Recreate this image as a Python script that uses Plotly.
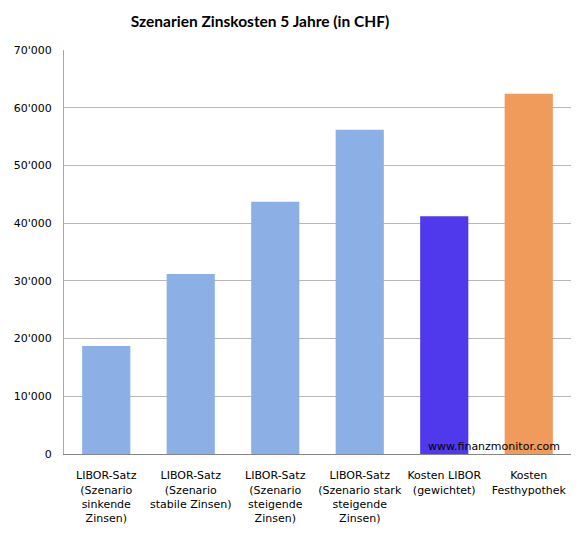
import plotly.graph_objects as go

categories = [
    "LIBOR-Satz<br>(Szenario<br>sinkende<br>Zinsen)",
    "LIBOR-Satz<br>(Szenario<br>stabile Zinsen)",
    "LIBOR-Satz<br>(Szenario<br>steigende<br>Zinsen)",
    "LIBOR-Satz<br>(Szenario stark<br>steigende<br>Zinsen)",
    "Kosten LIBOR<br>(gewichtet)",
    "Kosten<br>Festhypothek",
]
values = [18700, 31200, 43700, 56200, 41200, 62400]
bar_colors = ["#8cb0e5", "#8cb0e5", "#8cb0e5", "#8cb0e5", "#5038ec", "#f09a5c"]
y_ticks = [0, 10000, 20000, 30000, 40000, 50000, 60000, 70000]

# the page body has an 8px default margin, so the figure is sized to fit the window
W, H = 578, 539
ML, MR, MT, MB = 56, 15, 42, 93

fig = go.Figure(
    go.Bar(
        x=categories,
        y=values,
        marker=dict(color=bar_colors, line=dict(width=0)),
        width=0.57,
        hoverinfo="x+y",
    )
)

fig.update_layout(
    width=W,
    height=H,
    paper_bgcolor="white",
    plot_bgcolor="white",
    separators=".'",
    margin=dict(l=ML, r=MR, t=MT, b=MB, autoexpand=False),
    showlegend=False,
    title=dict(
        text="<b>Szenarien Zinskosten 5 Jahre (in CHF)</b>",
        x=252 / W,
        xref="container",
        xanchor="center",
        y=1 - 14 / H,
        yref="container",
        yanchor="middle",
        font=dict(family="Lato, Open Sans, sans-serif", size=15.5, color="#000000"),
    ),
    font=dict(family="DejaVu Sans, Verdana, sans-serif", size=11, color="#000000"),
)

fig.update_xaxes(
    showgrid=False,
    showline=True,
    linecolor="#868686",
    linewidth=1,
    ticks="",
    tickfont=dict(family="DejaVu Sans, Verdana, sans-serif", size=11, color="#000000"),
    ticklabelstandoff=11,
)

fig.update_yaxes(
    range=[0, 70000],
    tickvals=y_ticks,
    tickformat=",d",
    showgrid=True,
    gridcolor="#b8b8b8",
    gridwidth=1,
    showline=True,
    linecolor="#a8a8a8",
    linewidth=1,
    ticks="",
    ticklabelstandoff=9,
    zeroline=False,
    tickfont=dict(family="DejaVu Sans, Verdana, sans-serif", size=11, color="#000000"),
)

plot_w = W - ML - MR
plot_h = H - MT - MB
fig.add_annotation(
    text="www.finanzmonitor.com",
    x=(562 - 8 - ML) / plot_w,
    y=(454 - 446) / plot_h,
    xref="paper",
    yref="paper",
    xanchor="right",
    yanchor="middle",
    showarrow=False,
    font=dict(family="DejaVu Sans, Verdana, sans-serif", size=11, color="#000000"),
)

fig.write_html("out.html")
